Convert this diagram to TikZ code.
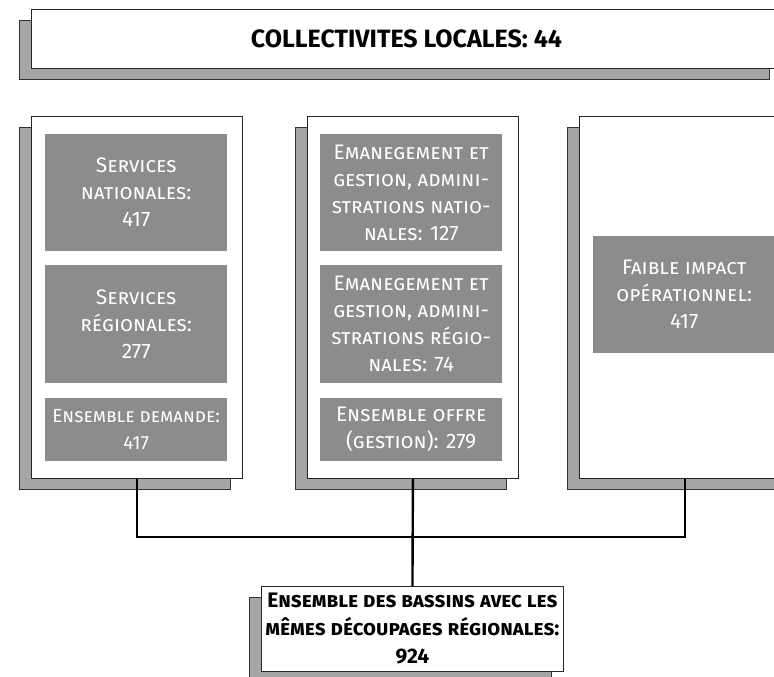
\documentclass[tikz,border=0pt]{standalone}
\usepackage{fontspec}
\setmainfont{Fira Sans}
\usetikzlibrary{shadows}

\definecolor{boxgray}{HTML}{8C8C8C}
\definecolor{shadegray}{HTML}{A6A6A6}

\tikzset{
  shade/.style={general shadow={shadow xshift=-12pt, shadow yshift=-11pt, fill=shadegray, draw=black!80, line width=0.8pt}},
  whitebox/.style={shade, draw=black!85, line width=0.9pt, fill=white, anchor=north west, inner sep=0pt},
  graybox/.style={fill=boxgray, text=white, anchor=north west, align=center, inner sep=0pt, font=\fontsize{21}{27}\selectfont\scshape},
  link/.style={line width=2.4pt, black}
}

\begin{document}
\begin{tikzpicture}[x=1pt,y=-1pt]

\useasboundingbox (0,0) rectangle (774,677);

\clip (0,0) rectangle (774,677);

\node [whitebox, minimum width=750pt, minimum height=59pt, font=\fontsize{25}{30}\selectfont\bfseries] (title) at (31,9) {COLLECTIVITES LOCALES: 44};

\node [whitebox, minimum width=211pt, minimum height=362pt] (demand) at (31,116) {};

\node [whitebox, minimum width=211pt, minimum height=362pt] (supply) at (307,116) {};

\node [whitebox, minimum width=211pt, minimum height=362pt] (impact) at (579,116) {};

\node [graybox, minimum width=182pt, minimum height=117pt] (natserv) at (45,134) {Services\\ nationales:\\ 417};

\node [graybox, minimum width=182pt, minimum height=118pt] (regserv) at (45,265) {Services\\ régionales:\\ 277};

\node [graybox, minimum width=182pt, minimum height=63pt, font=\fontsize{19}{27}\selectfont\scshape] (alldemand) at (45,398) {Ensemble demande:\\ 417};

\node [graybox, minimum width=182pt, minimum height=117pt] (natadmin) at (320,134) {Emanegement et\\ gestion, admini-\\ strations natio-\\ nales: 127};

\node [graybox, minimum width=182pt, minimum height=118pt] (regadmin) at (320,265) {Emanegement et\\ gestion, admini-\\ strations régio-\\ nales: 74};

\node [graybox, minimum width=182pt, minimum height=63pt] (allsupply) at (320,398) {Ensemble offre\\ (gestion): 279};

\node [graybox, minimum width=182pt, minimum height=117pt] (weak) at (593,236) {Faible impact\\ opérationnel:\\ 417};

\node [whitebox, minimum width=302pt, minimum height=85pt, align=center, font=\fontsize{21}{28}\selectfont\bfseries\scshape] (basins) at (261,586) {Ensemble des bassins avec les\\ mêmes découpages régionales:\\ 924};

\coordinate (hub) at (412,537);

\draw [link] (demand.south) |- (hub) -| (impact.south);

\draw [link] (supply.south) -- (basins.north);

\end{tikzpicture}
\end{document}
